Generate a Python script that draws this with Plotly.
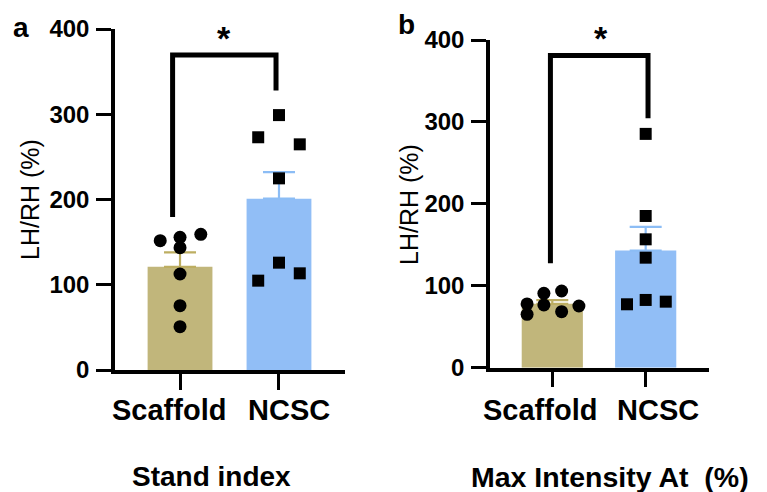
import plotly.graph_objects as go

# ---------------- data ----------------
groups = ["Scaffold", "NCSC"]

# Panel a: Stand index
mean_a = [121, 201]
sem_a = [17, 31]
scaffold_a = [151.7, 155.6, 143.5, 159.2, 112.6, 75.4, 50.8]
scaffold_a_jit = [-0.20, 0.0, 0.0, 0.21, 0.0, 0.0, 0.0]
ncsc_a = [273, 299, 264.7, 224.8, 104.8, 125.9, 113.4]
ncsc_a_jit = [-0.21, 0.0, 0.21, 0.0, -0.21, 0.0, 0.21]
bracket_a = [179.5, 369.5, 328]   # left foot, top, right foot
bracket_a_x = [-0.075, 0.97]

# Panel b: Max Intensity At (%)
mean_b = [78, 143]
sem_b = [4.5, 29]
scaffold_b = [77.8, 65.2, 90.8, 76.6, 93.6, 68.4, 75.3]
scaffold_b_jit = [-0.27, -0.27, -0.09, -0.09, 0.10, 0.10, 0.285]
ncsc_b = [285.4, 185.2, 156.7, 134.3, 77.4, 82.7, 80.6]
ncsc_b_jit = [0.0, 0.0, 0.0, 0.0, -0.20, 0.0, 0.215]
bracket_b = [127.5, 381, 304.5]
bracket_b_x = [-0.02, 1.025]

y_ticks = [0, 100, 200, 300, 400]

# ---------------- styles ----------------
TAN = "#C1B67B"
BLUE = "#91BEF6"
TAN_ERR = "#BDAE62"
BLUE_ERR = "#8CBDF5"
FONT = "Liberation Sans, Arial, sans-serif"
OFF = 8                      # page body margin
W, H = 767 - OFF, 492 - OFF


def px(x):   # screen pixel x -> paper fraction
    return (x - OFF) / W


def py(y):   # screen pixel y -> paper fraction
    return 1 - (y - OFF) / H


fig = go.Figure()


def add_panel(xa, ya, means, sems, s_vals, s_jit, n_vals, n_jit, br, br_x):
    for i, (col, ecol) in enumerate([(TAN, TAN_ERR), (BLUE, BLUE_ERR)]):
        fig.add_trace(go.Bar(
            x=[i], y=[means[i]], width=0.655, xaxis=xa, yaxis=ya,
            marker=dict(color=col, line=dict(width=0)),
            error_y=dict(type="data", symmetric=False, array=[sems[i]],
                         arrayminus=[0], color=ecol, thickness=2.2, width=16),
            showlegend=False, hoverinfo="skip"))
    fig.add_trace(go.Scatter(
        x=[0 + j for j in s_jit], y=s_vals, mode="markers", xaxis=xa, yaxis=ya,
        marker=dict(symbol="circle", size=13, color="black"),
        showlegend=False, hoverinfo="skip", cliponaxis=False))
    fig.add_trace(go.Scatter(
        x=[1 + j for j in n_jit], y=n_vals, mode="markers", xaxis=xa, yaxis=ya,
        marker=dict(symbol="square", size=12, color="black"),
        showlegend=False, hoverinfo="skip", cliponaxis=False))
    fig.add_trace(go.Scatter(
        x=[br_x[0], br_x[0], br_x[1], br_x[1]],
        y=[br[0], br[1], br[1], br[2]], mode="lines", xaxis=xa, yaxis=ya,
        line=dict(color="black", width=5), showlegend=False,
        hoverinfo="skip", cliponaxis=False))


add_panel("x", "y", mean_a, sem_a, scaffold_a, scaffold_a_jit,
          ncsc_a, ncsc_a_jit, bracket_a, bracket_a_x)
add_panel("x2", "y2", mean_b, sem_b, scaffold_b, scaffold_b_jit,
          ncsc_b, ncsc_b_jit, bracket_b, bracket_b_x)

xcommon = dict(showline=True, linecolor="black", linewidth=3.5,
               ticks="outside", ticklen=16, tickwidth=3, tickcolor="black",
               tickvals=[0, 1], showticklabels=False, showgrid=False,
               zeroline=False, fixedrange=True, automargin=False)
ycommon = dict(showline=True, linecolor="black", linewidth=3.5,
               ticks="outside", ticklen=15, tickwidth=3, tickcolor="black",
               tickvals=y_ticks, range=[0, 400], showgrid=False, zeroline=False,
               tickfont=dict(family=FONT, size=24, color="black", weight="bold"),
               ticklabelstandoff=2, fixedrange=True, automargin=False)

fig.update_layout(
    width=W, height=H, margin=dict(l=0, r=0, t=0, b=0, autoexpand=False),
    plot_bgcolor="white", paper_bgcolor="white",
    barmode="overlay",
    xaxis=dict(domain=[px(115), px(345)], range=[-0.657, 1.667], anchor="y", **xcommon),
    yaxis=dict(domain=[py(370), py(29)], anchor="x", **ycommon),
    xaxis2=dict(domain=[px(490), px(709)], range=[-0.667, 1.678], anchor="y2", **xcommon),
    yaxis2=dict(domain=[py(367.7), py(40)], anchor="x2", **ycommon),
)

ann = []
bold = dict(family=FONT, size=29, color="black", weight="bold")
# x tick labels
for xr, shifts in [("x", [-11, 10]), ("x2", [-12.5, 12])]:
    for i, g in enumerate(groups):
        ann.append(dict(x=i, xref=xr, y=py(410), yref="paper", text=g,
                        showarrow=False, xanchor="center", yanchor="middle",
                        xshift=shifts[i], font=bold))
# bottom titles
ann.append(dict(x=px(211), y=py(476), xref="paper", yref="paper",
                text="Stand index", showarrow=False,
                font=dict(family=FONT, size=28, color="black", weight="bold"),
                xanchor="center", yanchor="middle"))
ann.append(dict(x=px(610), y=py(477), xref="paper", yref="paper",
                text="Max Intensity At\u00a0 (%)", showarrow=False,
                font=dict(family=FONT, size=28.5, color="black", weight="bold"),
                xanchor="center", yanchor="middle"))
# y titles
for xp, yp in [(30, 200), (409, 205)]:
    ann.append(dict(x=px(xp), y=py(yp), xref="paper", yref="paper",
                    text="LH/RH (%)", textangle=-90, showarrow=False,
                    font=dict(family=FONT, size=25, color="black"),
                    xanchor="center", yanchor="middle"))
# panel letters
for t, xp, yp in [("a", 21, 27), ("b", 406, 24)]:
    ann.append(dict(x=px(xp), y=py(yp), xref="paper", yref="paper",
                    text=t, showarrow=False,
                    font=dict(family=FONT, size=28, color="black", weight="bold"),
                    xanchor="center", yanchor="middle"))
# significance stars
for xp in [223.5, 600.5]:
    ann.append(dict(x=px(xp), y=py(38), xref="paper", yref="paper",
                    text="*", showarrow=False,
                    font=dict(family=FONT, size=34, color="black", weight="bold"),
                    xanchor="center", yanchor="middle"))

fig.update_layout(annotations=ann)
fig.write_html("out.html")
